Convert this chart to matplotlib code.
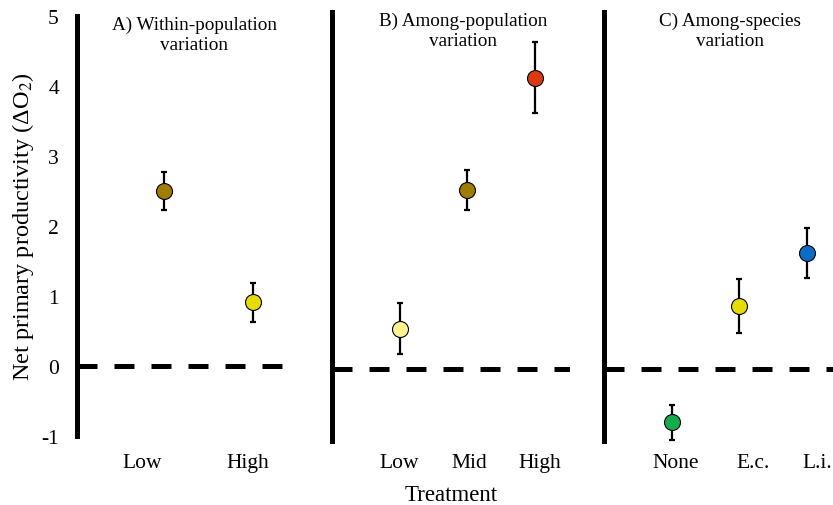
import matplotlib.pyplot as plt

plt.rcParams['font.family'] = ['Liberation Serif', 'DejaVu Serif']
plt.rcParams['mathtext.fontset'] = 'stix'

# data: mean +/- error for each panel
titles = ['A) Within-population\nvariation',
          'B) Among-population\nvariation',
          'C) Among-species\nvariation']
labels_a = ['Low', 'High']
means_a = [2.50, 0.91]
errs_a = [0.27, 0.28]
colors_a = ['#A07C00', '#E6DC00']

labels_b = ['Low', 'Mid', 'High']
means_b = [0.57, 2.51, 4.08]
errs_b = [0.36, 0.28, 0.50]
colors_b = ['#FFF48F', '#A07C00', '#D93A10']

labels_c = ['None', 'E.c.', 'L.i.']
means_c = [-0.74, 0.89, 1.63]
errs_c = [0.24, 0.38, 0.35]
colors_c = ['#14AC4C', '#E6DC00', '#0A6CC4']

panels = [
    (labels_a, means_a, errs_a, colors_a),
    (labels_b, means_b, errs_b, colors_b),
    (labels_c, means_c, errs_c, colors_c),
]

# layout per panel: axes rect, xlim, tick label shift, label pad
rects = [[0.0924, 0.1364, 0.2557, 0.830],
         [0.3986, 0.1265, 0.2857, 0.848],
         [0.7251, 0.1265, 0.2749, 0.848]]
xlims = [(0.02, 2.42), (0.0, 3.52), (0.0, 3.39)]
tick_shift = [[-0.24, -0.06], [0.0, 0.03, 0.07], [0.06, 0.2, 0.16]]
xpads = [12.5, 9, 9]

fig = plt.figure(figsize=(8.33, 5.06), dpi=100)

for i, (labels, means, errs, colors) in enumerate(panels):
    ax = fig.add_axes(rects[i])
    xs = list(range(1, len(labels) + 1))
    for x, m, e, c in zip(xs, means, errs, colors):
        ax.errorbar(x, m, yerr=e, fmt='none', ecolor='black', elinewidth=1.6,
                    capsize=2.2, capthick=1.6, zorder=2)
        ax.plot(x, m, 'o', markersize=11.5, markerfacecolor=c,
                markeredgecolor='black', markeredgewidth=0.8, zorder=3)
    ax.axhline(0, color='black', linestyle=(0, (4.0, 3.4)), linewidth=3.6, zorder=1)
    ax.set_ylim(-1, 5)
    ax.set_xlim(*xlims[i])
    ax.set_xticks([x + s for x, s in zip(xs, tick_shift[i])])
    ax.set_xticklabels(labels, fontsize=15.5)
    ax.tick_params(axis='x', length=0, pad=xpads[i])
    for side in ['top', 'right', 'bottom']:
        ax.spines[side].set_visible(False)
    ax.spines['left'].set_linewidth(3.6)
    if i == 0:
        ax.set_yticks(range(-1, 6))
        ax.set_yticklabels(['-1', '0', '1', '2', '3', '4', '5'], fontsize=15.5)
        ax.tick_params(axis='y', length=0, pad=13)
        ax.set_ylabel('Net primary productivity (ΔO$_2$)', fontsize=17.5, labelpad=4)
    else:
        ax.set_yticks([])
    ax.text(0.55, 1.0, titles[i], transform=ax.transAxes, ha='center',
            va='top', fontsize=13.8, linespacing=1.2)
    if i == 1:
        ax.set_xlabel('Treatment', fontsize=16.5, labelpad=8.5)

fig.savefig('out.png', dpi=100)
